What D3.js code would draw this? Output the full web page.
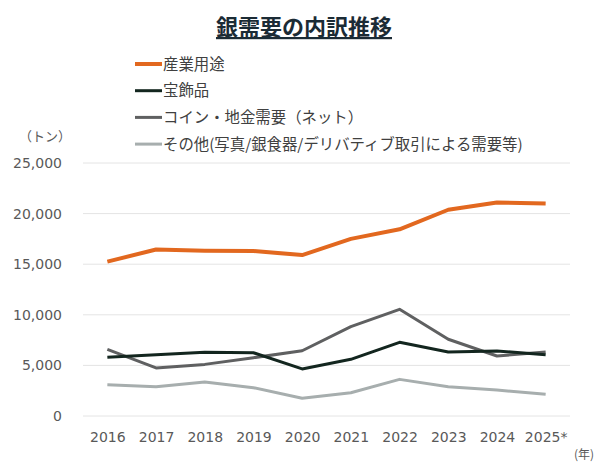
<!DOCTYPE html>
<html>
<head>
<meta charset="utf-8">
<script src="https://cdn.jsdelivr.net/npm/d3@7"></script>
<style>
  body { margin: 0; background: #fff; }
  svg { font-family: "Noto Sans CJK JP", "Noto Sans", sans-serif; }
</style>
</head>
<body>
<div id="chart"></div>
<script>
// chart data
var years = ["2016", "2017", "2018", "2019", "2020", "2021", "2022", "2023", "2024", "2025*"];
var seriesNames = ["産業用途", "宝飾品", "コイン・地金需要（ネット）", "その他(写真/銀食器/デリバティブ取引による需要等)"];
var industrial = [15250, 16450, 16330, 16300, 15900, 17500, 18450, 20380, 21100, 21000];
var jewelry = [5800, 6050, 6300, 6250, 4650, 5600, 7280, 6320, 6420, 6060];
var coinBar = [6590, 4750, 5100, 5760, 6450, 8830, 10540, 7580, 5930, 6320];
var other = [3100, 2900, 3350, 2800, 1750, 2300, 3620, 2900, 2570, 2150];
var yTicks = [0, 5000, 10000, 15000, 20000, 25000];

var colors = ["#e2681f", "#13261f", "#5f6061", "#a7aeae"];
var widths = [4, 3, 3, 3];

var width = 600, height = 470;
var margin = {top: 163, right: 30, bottom: 54, left: 83};

var svg = d3.select("#chart").append("svg")
    .attr("width", width)
    .attr("height", height);

//title
svg.append("text")
    .attr("x", 304)
    .attr("y", 35)
    .attr("text-anchor", "middle")
    .attr("font-size", 22)
    .attr("font-weight", "bold")
    .attr("fill", "#1b2b35")
    .style("text-decoration", "underline")
    .text("銀需要の内訳推移");

var x = d3.scalePoint()
    .domain(years)
    .range([margin.left, width - margin.right])
    .padding(0.5);

var y = d3.scaleLinear()
    .domain([0, 25000])
    .range([height - margin.bottom, margin.top]);

// grid lines
svg.append("g").selectAll("line").data(yTicks)
    .enter().append("line")
    .attr("x1", margin.left)
    .attr("x2", width - margin.right)
    .attr("y1", function (d) { return y(d); })
    .attr("y2", function (d) { return y(d); })
    .attr("stroke", "#e4e4e4")
    .attr("stroke-width", 1);

// y axis labels
var yAxis = d3.axisLeft(y).tickValues(yTicks).tickSize(0).tickPadding(21)
    .tickFormat(d3.format(","));
var gy = svg.append("g")
    .attr("transform", "translate(" + margin.left + ",0)")
    .call(yAxis);
gy.select(".domain").remove();
gy.selectAll("text").attr("fill", "#595959")
    .style("font-family", "'DejaVu Sans', sans-serif").attr("font-size", 14);

// x axis labels
var xAxis = d3.axisBottom(x).tickSize(0).tickPadding(16);
var gx = svg.append("g")
    .attr("transform", "translate(0," + (height - margin.bottom) + ")")
    .call(xAxis);
gx.select(".domain").remove();
gx.selectAll("text").attr("fill", "#595959")
    .style("font-family", "'DejaVu Sans', sans-serif").attr("font-size", 14);

// units
svg.append("text")
    .attr("x", 45).attr("y", 141)
    .attr("text-anchor", "middle")
    .attr("font-size", 13).attr("fill", "#595959")
    .text("（トン）");
svg.append("text")
    .attr("x", 584).attr("y", 459)
    .attr("text-anchor", "middle")
    .attr("font-size", 12).attr("fill", "#595959")
    .text("(年)");

// lines, drawn back to front
var allSeries = [industrial, jewelry, coinBar, other];
var line = d3.line()
    .x(function (d, i) { return x(years[i]); })
    .y(function (d) { return y(d); });

var order = [3, 2, 1, 0];
order.forEach(function (k) {
    svg.append("path")
        .datum(allSeries[k])
        .attr("d", line)
        .attr("fill", "none")
        .attr("stroke", colors[k])
        .attr("stroke-width", widths[k])
        .attr("stroke-linejoin", "round");
});

// legend
var legend = svg.append("g").attr("transform", "translate(135,64)");
seriesNames.forEach(function (name, i) {
    var g = legend.append("g").attr("transform", "translate(0," + (i * 26.7) + ")");
    g.append("line")
        .attr("x1", 0).attr("x2", 27)
        .attr("stroke", colors[i])
        .attr("stroke-width", widths[i]);
    g.append("text")
        .attr("x", 28).attr("y", 5.5)
        .attr("font-size", 15.4)
        .attr("fill", "#404040")
        .text(name);
});
</script>
</body>
</html>
